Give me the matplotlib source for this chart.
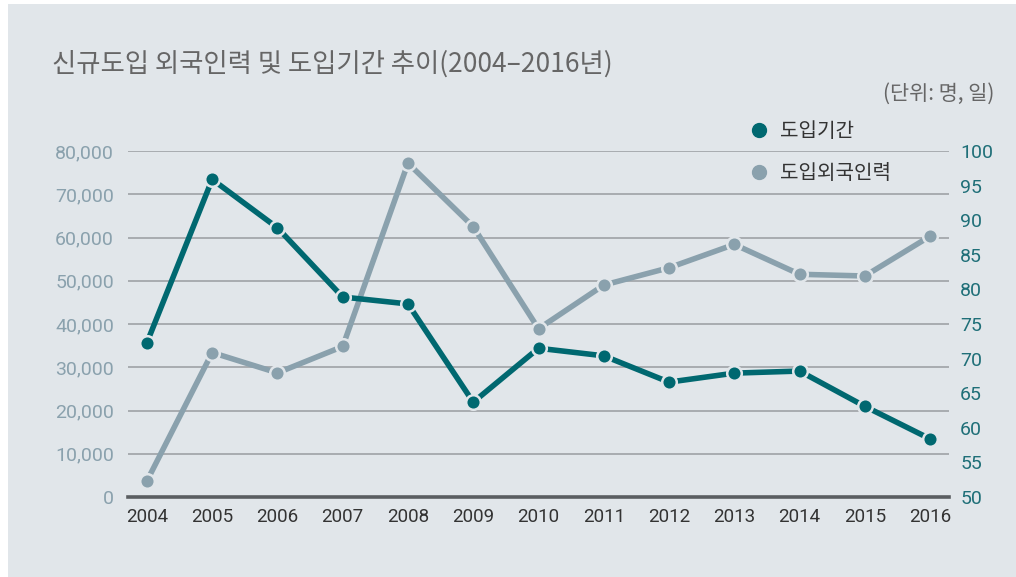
import matplotlib.pyplot as plt
from matplotlib.patches import Rectangle
from matplotlib.lines import Line2D
from matplotlib.ticker import FuncFormatter

plt.rcParams['font.family'] = ['Roboto', 'Noto Sans CJK KR', 'DejaVu Sans']

years = ['2004', '2005', '2006', '2007', '2008', '2009', '2010',
         '2011', '2012', '2013', '2014', '2015', '2016']
# 도입외국인력 (명) - left axis
workers = [3700, 33400, 28700, 34800, 77200, 62500, 38900,
           49000, 53000, 58400, 51500, 51100, 60300]
# 도입기간 (일) - right axis
period = [72.3, 95.9, 88.9, 78.9, 77.9, 63.7, 71.5,
          70.4, 66.6, 67.9, 68.2, 63.1, 58.4]

bg = '#e1e6ea'
teal = '#006870'
gray = '#8aa1ad'

W, H = 1016, 577
fig = plt.figure(figsize=(W / 100, H / 100), dpi=100)
fig.patch.set_facecolor('white')
fig.patches.append(Rectangle((8 / W, 0), 1 - 8 / W, 1 - 4 / H,
                             transform=fig.transFigure, facecolor=bg,
                             edgecolor='none', zorder=-10))

ax = fig.add_axes([128 / W, 1 - 497 / H, (949 - 128) / W, (497 - 151) / H])
ax.set_facecolor('none')
ax2 = ax.twinx()

x = list(range(len(years)))

ax.plot(x, workers, color=gray, lw=4, marker='o', ms=10.5,
        markerfacecolor=gray, markeredgecolor=bg, markeredgewidth=1.8,
        solid_capstyle='round', zorder=3)
ax2.plot(x, period, color=teal, lw=4, marker='o', ms=10.5,
         markerfacecolor=teal, markeredgecolor=bg, markeredgewidth=1.8,
         solid_capstyle='round', zorder=3)

ax.set_xlim(-0.29, 12.29)
ax.set_ylim(0, 80000)
ax2.set_ylim(50, 100)
ax.set_yticks(range(0, 80001, 10000))
ax2.set_yticks(range(50, 101, 5))
ax.yaxis.set_major_formatter(FuncFormatter(lambda v, p: f'{int(v):,}'))

ax.set_xticks(x)
ax.set_xticklabels(years)

for s in ['top', 'right', 'left']:
    ax.spines[s].set_visible(False)
    ax2.spines[s].set_visible(False)
ax2.spines['bottom'].set_visible(False)
ax.spines['bottom'].set_color('#5a5e61')
ax.spines['bottom'].set_linewidth(2.6)
ax.spines['bottom'].set_zorder(5)

ax.grid(axis='y', color='#a3a7ab', lw=1.3)
ax.set_axisbelow(True)

ax.tick_params(axis='y', length=0, pad=10, labelsize=14, labelcolor='#8aa1ad')
ax.tick_params(axis='x', length=0, pad=8, labelsize=13.5, labelcolor='#333333')
ax2.tick_params(axis='y', length=0, pad=8, labelsize=14, labelcolor='#1f6f78')

fig.text(52 / W, 1 - 64 / H, '신규도입 외국인력 및 도입기간 추이(2004–2016년)',
         fontsize=19, color='#666666', va='center', ha='left', weight='medium',
         family=['Noto Sans CJK KR', 'DejaVu Sans'])
fig.text(994 / W, 1 - 94 / H, '(단위: 명, 일)', fontsize=15, color='#666666',
         va='center', ha='right', family=['Noto Sans CJK KR', 'DejaVu Sans'])

handles = [Line2D([], [], ls='none', marker='o', ms=10, color=teal),
           Line2D([], [], ls='none', marker='o', ms=10, color=gray)]
fig.legend(handles, ['도입기간', '도입외국인력'], loc='upper left',
           bbox_to_anchor=(731 / W, 1 - 103 / H), frameon=False,
           prop={'family': 'Noto Sans CJK KR', 'size': 14.5},
           labelcolor='#333333', handletextpad=0.55, labelspacing=1.05,
           handlelength=1.0)

fig.savefig('out.png', dpi=100, facecolor=fig.get_facecolor())
